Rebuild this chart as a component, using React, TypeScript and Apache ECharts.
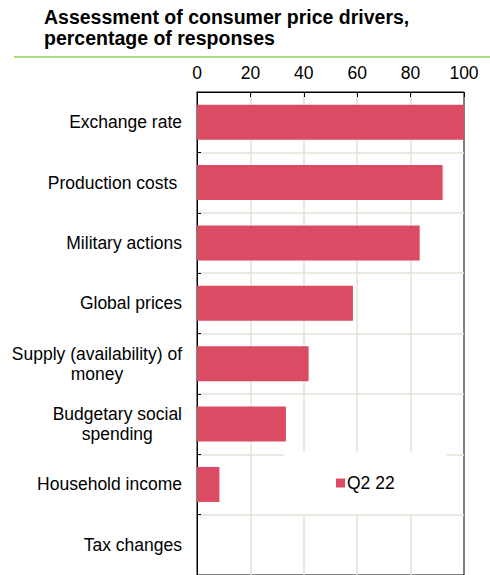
import React, { useEffect, useRef } from "react";
import * as echarts from "echarts";

const categories = [
  "Exchange rate",
  "Production costs ",
  "Military actions",
  "Global prices",
  "Supply (availability) of\nmoney",
  "Budgetary social\nspending",
  "Household income",
  "Tax changes",
];
const q2_22 = [100, 92, 83.4, 58.4, 41.8, 33.3, 8.4, 0];
const xTicks = [0, 20, 40, 60, 80, 100];
const seriesName = "Q2 22";
const titleText = "Assessment of consumer price drivers,\npercentage of responses";

const FONT = "Liberation Sans, Arial, sans-serif";
const FS = 17.5;

export default function App() {
  const ref = useRef<HTMLDivElement>(null);
  useEffect(() => {
    if (!ref.current) return;
    const chart = echarts.init(ref.current, null, { renderer: "svg" });
    chart.setOption({
      animation: false,
      backgroundColor: "#fff",
      textStyle: { fontFamily: FONT },
      title: {
        text: titleText,
        left: 39,
        top: 2,
        textStyle: { fontSize: 19.5, fontWeight: "bold", color: "#000", lineHeight: 20.5, fontFamily: FONT },
      },
      graphic: [
        {
          type: "line",
          shape: { x1: 14, y1: 57, x2: 490, y2: 57 },
          style: { stroke: "#92d050", lineWidth: 1.5 },
        },
      ],
      legend: {
        data: [seriesName],
        left: 284,
        top: 452,
        padding: [22, 52],
        backgroundColor: "#fff",
        itemWidth: 9,
        itemHeight: 9,
        itemGap: 0,
        textStyle: { fontSize: FS, color: "#000", fontFamily: FONT, padding: [0, 0, 0, -3] },
        icon: "rect",
      },
      grid: {
        left: 197,
        top: 92,
        width: 267,
        height: 485,
        show: true,
        borderColor: "#000",
        borderWidth: 1,
        backgroundColor: "transparent",
        containLabel: false,
      },
      xAxis: {
        type: "value",
        position: "top",
        min: 0,
        max: 100,
        interval: 20,
        axisLine: { show: true, lineStyle: { color: "#000", width: 1 } },
        axisTick: { show: true, inside: true, length: 5, lineStyle: { color: "#000" } },
        axisLabel: {
          fontSize: FS,
          color: "#000",
          margin: 10,
          fontFamily: FONT,
          formatter: (v: number) => (xTicks.includes(v) ? String(v) : ""),
        },
        splitLine: {
          show: true,
          showMinLine: false,
          showMaxLine: false,
          lineStyle: { color: "#e3e3d9", width: 1.5 },
        },
      },
      yAxis: {
        type: "category",
        data: categories,
        inverse: true,
        axisLine: { show: true, lineStyle: { color: "#000", width: 1 } },
        axisTick: { show: true, inside: true, length: 4, lineStyle: { color: "#000" } },
        axisLabel: {
          fontSize: FS,
          color: "#000",
          margin: 15,
          fontFamily: FONT,
          lineHeight: 20,
          formatter: (v: string) =>
            v
              .split("\n")
              .map((l) => `{c|${l}}`)
              .join("\n"),
          rich: { c: { align: "center", fontSize: FS, color: "#000", fontFamily: FONT, lineHeight: 20 } },
        },
        splitLine: {
          show: true,
          showMinLine: false,
          showMaxLine: false,
          lineStyle: { color: "#e3e3d9", width: 1.5 },
        },
      },
      series: [
        {
          name: seriesName,
          type: "bar",
          data: q2_22,
          barWidth: "58%",
          itemStyle: { color: "#db4c64", borderWidth: 0 },
        },
      ],
    });
    return () => chart.dispose();
  }, []);
  return (
    <div
      ref={ref}
      style={{ position: "fixed", left: 0, top: 0, width: 490, height: 575 }}
    />
  );
}
